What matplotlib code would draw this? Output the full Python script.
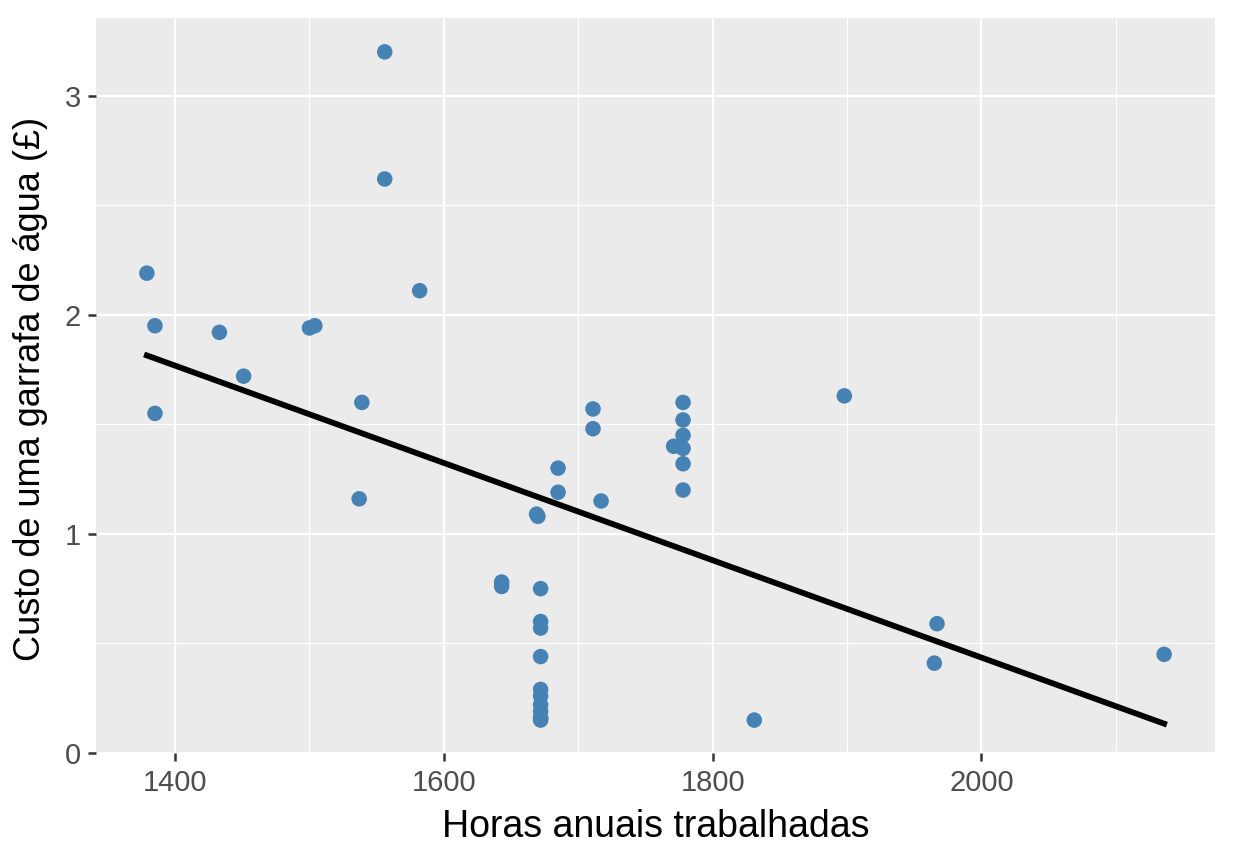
import numpy as np
import matplotlib
matplotlib.use("Agg")
import matplotlib.pyplot as plt

plt.rcParams['font.family'] = ['Liberation Sans', 'DejaVu Sans']

# horas anuais trabalhadas vs custo de uma garrafa de agua (44 cidades,
# alguns pontos sobrepostos na coluna de 1672 h)
horas = [1379, 1385, 1385, 1433, 1451, 1500, 1504, 1537, 1539, 1556, 1556, 1582,
         1643, 1643, 1669, 1670, 1685, 1685, 1711, 1711, 1717,
         1672, 1672, 1672, 1672, 1672, 1672, 1672, 1672, 1672, 1672, 1672,
         1771, 1778, 1778, 1778, 1778, 1778, 1778,
         1831, 1898, 1965, 1967, 2136]
custo = [2.19, 1.95, 1.55, 1.92, 1.72, 1.94, 1.95, 1.16, 1.60, 3.20, 2.62, 2.11,
         0.78, 0.76, 1.09, 1.08, 1.30, 1.19, 1.57, 1.48, 1.15,
         0.75, 0.60, 0.57, 0.44, 0.29, 0.26, 0.22, 0.19, 0.16, 0.16, 0.15,
         1.40, 1.60, 1.52, 1.45, 1.39, 1.32, 1.20,
         0.15, 1.63, 0.41, 0.59, 0.45]

x_ticks = [1400, 1600, 1800, 2000]
y_ticks = [0, 1, 2, 3]

tick_size = 21
title_size = 27
grey_txt = '#4D4D4D'

fig = plt.figure(figsize=(12.34, 8.64), dpi=100)
ax = fig.add_axes([0.0778, 0.1279, 0.9068, 0.8507])
ax.set_facecolor('#EBEBEB')

x = np.array(horas, dtype=float)
y = np.array(custo)

# expansao de 5% como no ggplot
xr = x.max() - x.min()
yr = y.max() - y.min()
ax.set_xlim(x.min() - 0.05 * xr, x.max() + 0.05 * xr)
ax.set_ylim(y.min() - 0.05 * yr, y.max() + 0.05 * yr)

ax.set_xticks(x_ticks)
ax.set_yticks(y_ticks)
ax.set_xticks([1500, 1700, 1900, 2100], minor=True)
ax.set_yticks([0.5, 1.5, 2.5], minor=True)
ax.grid(which='major', color='white', linewidth=1.6)
ax.grid(which='minor', color='white', linewidth=0.8)
ax.set_axisbelow(True)
for s in ax.spines.values():
    s.set_visible(False)
ax.tick_params(which='major', length=6, width=1.8, color='#333333',
               labelsize=tick_size, labelcolor=grey_txt, pad=5)
ax.tick_params(which='minor', length=0)

ax.scatter(x, y, s=125, color='#4682B4', edgecolors='none', zorder=3)

# linha de regressao linear
slope, intercept = np.polyfit(x, y, 1)
xs = np.array([x.min(), x.max()])
ax.plot(xs, intercept + slope * xs, color='black', linewidth=4.2, zorder=4)

ax.set_xlabel('Horas anuais trabalhadas', fontsize=title_size)
ax.set_ylabel('Custo de uma garrafa de água (£)', fontsize=26)
ax.xaxis.set_label_coords(0.5, -0.076)
ax.yaxis.set_label_coords(-0.043, 0.496)

fig.savefig('out.png', dpi=100)
